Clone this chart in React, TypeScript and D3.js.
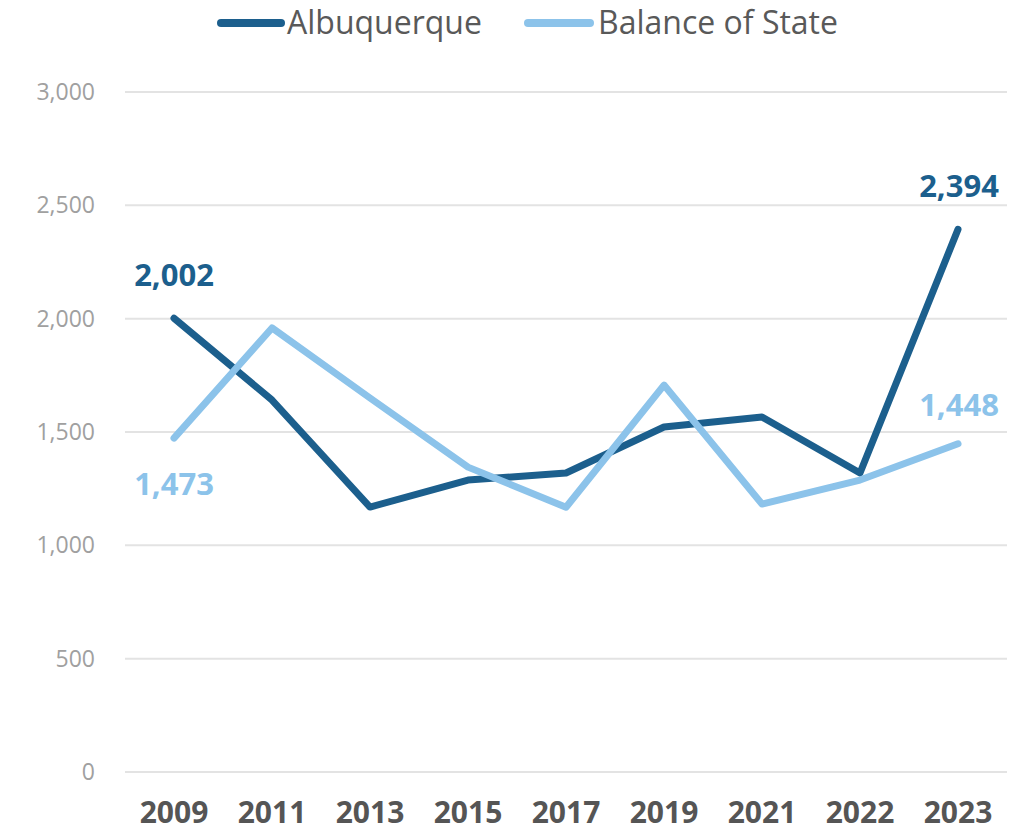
import React from "react";
import * as d3 from "d3";

const years = ["2009", "2011", "2013", "2015", "2017", "2019", "2021", "2022", "2023"];
const albuquerque = [2002, 1641, 1169, 1288, 1319, 1522, 1566, 1319, 2394];
const balanceOfState = [1473, 1959, 1650, 1345, 1168, 1707, 1182, 1288, 1448];
const yTicks = [0, 500, 1000, 1500, 2000, 2500, 3000];
const seriesNames = ["Albuquerque", "Balance of State"];

const W = 1025;
const H = 833;
const DARK = "#1C5F8D";
const LIGHT = "#8CC3EA";
const FONT = "'Open Sans', 'Noto Sans', sans-serif";

export default function App() {
  const x = d3.scalePoint<string>().domain(years).range([125, 1007]).padding(0.5);
  const y = d3.scaleLinear().domain([0, 3000]).range([772, 92]);
  const line = d3
    .line<number>()
    .x((_, i) => x(years[i]) as number)
    .y((d) => y(d));
  const fmt = d3.format(",");
  const last = years.length - 1;

  return (
    <svg
      width={W}
      height={H}
      style={{ position: "absolute", left: 0, top: 0, background: "#fff" }}
      fontFamily={FONT}
    >
      {/* legend */}
      <g>
        <line x1={221} x2={281} y1={23} y2={23} stroke={DARK} strokeWidth={8} strokeLinecap="round" />
        <text x={287} y={34} fontSize={32} fill="#595959">{seriesNames[0]}</text>
        <line x1={528} x2={590} y1={23} y2={23} stroke={LIGHT} strokeWidth={8} strokeLinecap="round" />
        <text x={598} y={34} fontSize={32} fill="#595959">{seriesNames[1]}</text>
      </g>
      {/* grid + y labels */}
      {yTicks.map((t) => (
        <g key={t}>
          <line x1={125} x2={1007} y1={y(t)} y2={y(t)} stroke="#e3e3e3" strokeWidth={2} />
          <text x={95} y={y(t)} dy="0.35em" textAnchor="end" fontSize={23} fill="#a0a0a0">
            {fmt(t)}
          </text>
        </g>
      ))}
      {/* x labels */}
      {years.map((yr) => (
        <text key={yr} x={x(yr)} y={823} textAnchor="middle" fontSize={30} fontWeight={700} fill="#555">
          {yr}
        </text>
      ))}
      {/* lines */}
      <path d={line(albuquerque) || ""} fill="none" stroke={DARK} strokeWidth={7} strokeLinejoin="round" strokeLinecap="round" />
      <path d={line(balanceOfState) || ""} fill="none" stroke={LIGHT} strokeWidth={7} strokeLinejoin="round" strokeLinecap="round" />
      {/* data labels */}
      <text x={x(years[0])} y={y(albuquerque[0]) - 32} textAnchor="middle" fontSize={31} fontWeight={700} fill={DARK}>
        {fmt(albuquerque[0])}
      </text>
      <text x={x(years[0])} y={y(balanceOfState[0]) + 57} textAnchor="middle" fontSize={31} fontWeight={700} fill={LIGHT}>
        {fmt(balanceOfState[0])}
      </text>
      <text x={(x(years[last]) as number) + 1} y={y(albuquerque[last]) - 32} textAnchor="middle" fontSize={31} fontWeight={700} fill={DARK}>
        {fmt(albuquerque[last])}
      </text>
      <text x={(x(years[last]) as number) + 1} y={y(balanceOfState[last]) - 28} textAnchor="middle" fontSize={31} fontWeight={700} fill={LIGHT}>
        {fmt(balanceOfState[last])}
      </text>
    </svg>
  );
}
